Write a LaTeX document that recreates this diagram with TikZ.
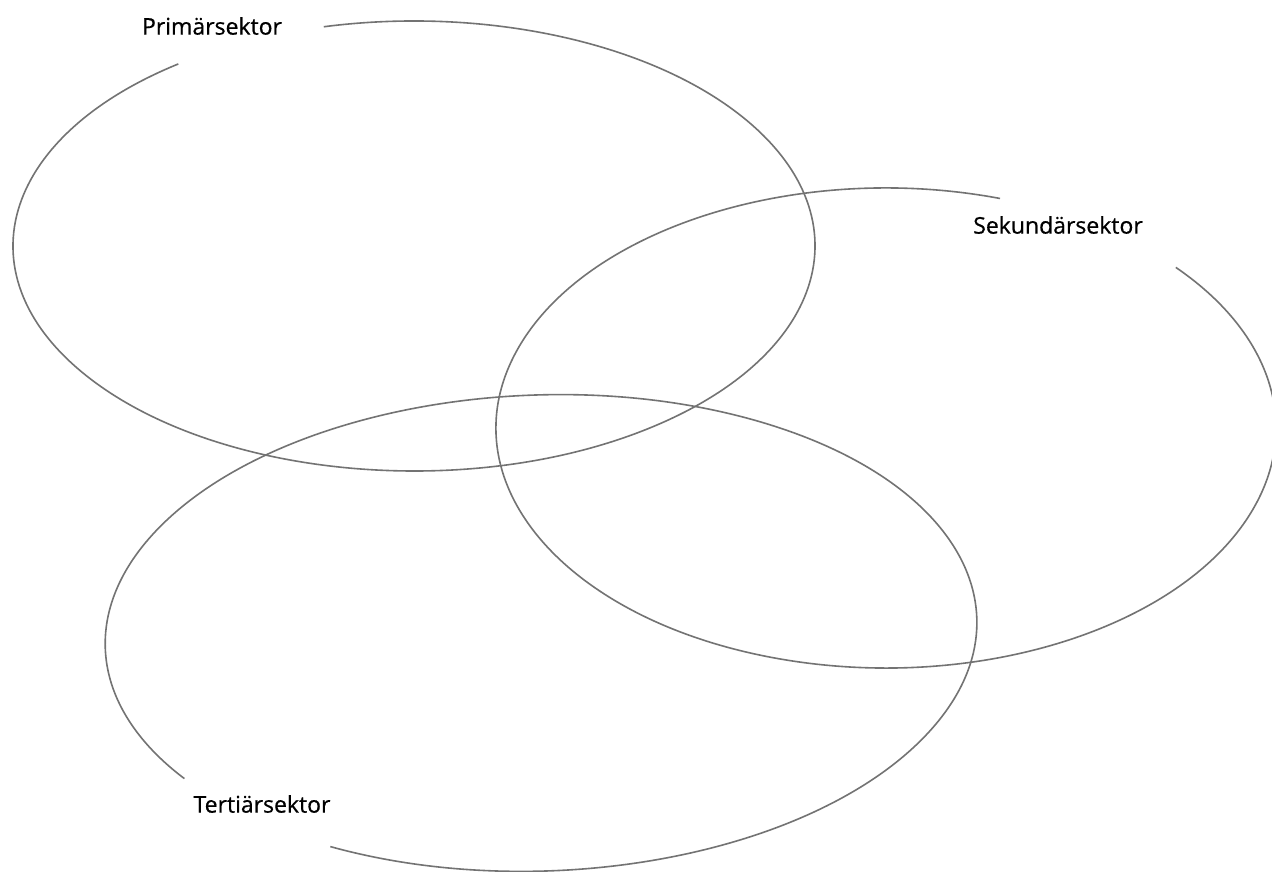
\documentclass[tikz,border=0pt]{standalone}
\usepackage{fontspec}
\setmainfont{Open Sans}
\newfontfamily\lblfont{Open Sans}[FakeBold=0.6]
\begin{document}
\begin{tikzpicture}[x=1pt,y=1pt,
  ring/.style={draw=black!55, line width=1.6pt},
  lbl/.style={font=\lblfont\fontsize{23}{27}\selectfont, text=black, inner sep=0pt}]
\useasboundingbox (0,0) rectangle (1272,872);
\clip (0,0) rectangle (1272,872);
\fill[white] (0,0) rectangle (1272,872);
% Primaersektor ellipse
\draw[ring, shift={(414,626)}] (126:401 and 225)
  arc[start angle=126, end angle=463, x radius=401, y radius=225];
% Sekundaersektor ellipse
\draw[ring, shift={(886,444)}] (73:390 and 240)
  arc[start angle=73, end angle=402, x radius=390, y radius=240];
% Tertiaersektor ellipse
\draw[ring, shift={(541,239)}, rotate=2] (240:436 and 238)
  arc[start angle=240, end angle=574, x radius=436, y radius=238];
% labels
\node[lbl] (prim) at (212,846) {Primärsektor};
\node[lbl] (sek) at (1058,647) {Sekundärsektor};
\node[lbl] (tert) at (262,68) {Tertiärsektor};
\end{tikzpicture}
\end{document}
